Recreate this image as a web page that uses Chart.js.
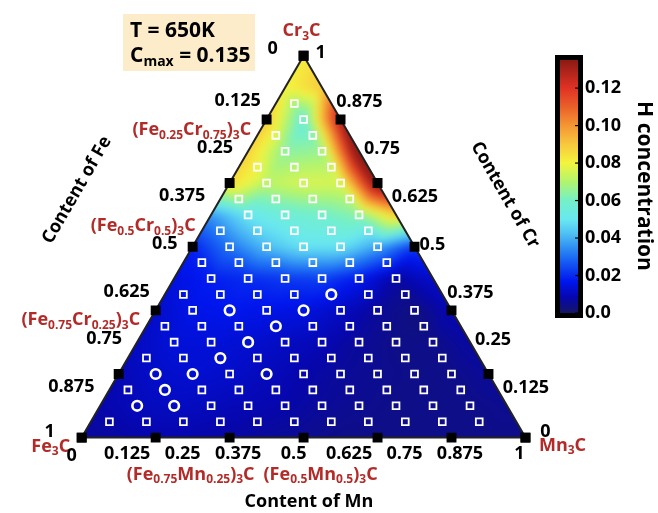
<!DOCTYPE html>
<html>
<head>
<meta charset="utf-8">
<script src="https://cdn.jsdelivr.net/npm/chart.js@4.4.0/dist/chart.umd.min.js"></script>
<style>
  body { margin: 0; background: #fff; }
  canvas { display: block; }
</style>
</head>
<body>
<canvas id="ternary" width="658" height="513"></canvas>
<script>
// ---- data ----
// sampled compositions, in 1/24 steps: Cr level of each row and the Mn levels on it
const sampleCr = [1, 2, 3, 4, 5, 6, 7, 8, 9, 10, 11, 12, 13, 14, 15, 16, 17, 18, 19, 20, 21];
const sampleMn = [
    [1, 3, 5, 7, 9, 11, 13, 15, 17, 19, 21],
    [2, 4, 6, 8, 10, 12, 14, 16, 18, 20],
    [1, 3, 5, 7, 9, 11, 13, 15, 17, 19],
    [2, 4, 6, 8, 10, 12, 14, 16, 18],
    [1, 3, 5, 7, 9, 11, 13, 15, 17],
    [2, 4, 6, 8, 10, 12, 14, 16],
    [1, 3, 5, 7, 9, 11, 13, 15],
    [2, 4, 6, 8, 10, 12, 14],
    [1, 3, 5, 7, 9, 11, 13],
    [2, 4, 6, 8, 10, 12],
    [1, 3, 5, 7, 9, 11],
    [2, 4, 6, 8, 10],
    [1, 3, 5, 7, 9],
    [2, 4, 6, 8],
    [1, 3, 5, 7],
    [2, 4, 6],
    [1, 3, 5],
    [2, 4],
    [1, 3],
    [2],
    [1]
];
// samples drawn as circles instead of squares: [Cr, Mn] in 1/24 steps
const circleSamples = [[2, 2], [2, 4], [3, 3], [4, 2], [4, 4], [4, 8], [5, 5], [6, 6], [7, 7], [8, 4], [8, 8], [9, 9]];

// H concentration on a 1/12 grid: row = Cr level (bottom to top), column = Mn level
const hGrid = [
    [0.006, 0.007, 0.008, 0.008, 0.007, 0.006, 0.005, 0.004, 0.004, 0.004, 0.004, 0.004, 0.004],
    [0.008, 0.010, 0.011, 0.010, 0.009, 0.008, 0.006, 0.005, 0.004, 0.004, 0.004, 0.005],
    [0.009, 0.012, 0.013, 0.012, 0.010, 0.008, 0.006, 0.005, 0.004, 0.004, 0.006],
    [0.011, 0.014, 0.014, 0.013, 0.011, 0.009, 0.006, 0.004, 0.004, 0.007],
    [0.012, 0.016, 0.017, 0.016, 0.015, 0.011, 0.006, 0.003, 0.009],
    [0.015, 0.018, 0.020, 0.022, 0.023, 0.017, 0.007, 0.012],
    [0.019, 0.031, 0.042, 0.049, 0.049, 0.038, 0.022],
    [0.036, 0.050, 0.056, 0.059, 0.064, 0.088],
    [0.086, 0.072, 0.076, 0.076, 0.140],
    [0.088, 0.064, 0.066, 0.145],
    [0.090, 0.055, 0.130],
    [0.080, 0.090],
    [0.082]
];

// black markers along each edge, in sixths
const edgeMarkers = [0, 1, 2, 3, 4, 5, 6];
// edge tick labels
const edgeTickValues = [0.125, 0.25, 0.375, 0.5, 0.625, 0.75, 0.875];
const edgeTickLabels = ['0.125', '0.25', '0.375', '0.5', '0.625', '0.75', '0.875'];

// colour bar
const cbMin = 0, cbMax = 0.135;
const cbTickValues = [0, 0.02, 0.04, 0.06, 0.08, 0.10, 0.12];
const cbTickLabels = ['0.0', '0.02', '0.04', '0.06', '0.08', '0.10', '0.12'];

// ---- helpers ----
const FONT = '"Open Sans", Lato, sans-serif';
const RED = '#b22b28';
const SQ3H = Math.sqrt(3) / 2;

function toXY(cr, mn) {
    return { x: mn + cr / 2, y: cr * SQ3H };
}

const cmapStops = [
    [0.000, 22, 22, 100],
    [0.008, 6, 6, 172],
    [0.017, 0, 22, 238],
    [0.030, 28, 110, 244],
    [0.042, 78, 190, 244],
    [0.050, 105, 232, 240],
    [0.060, 116, 240, 200],
    [0.070, 178, 244, 110],
    [0.080, 244, 244, 62],
    [0.090, 248, 200, 62],
    [0.100, 244, 150, 52],
    [0.110, 234, 96, 42],
    [0.120, 224, 50, 36],
    [0.135, 140, 26, 20]
];

function colorFor(v) {
    if (v <= cmapStops[0][0]) return cmapStops[0].slice(1);
    for (let i = 1; i < cmapStops.length; i++) {
        const b = cmapStops[i];
        if (v <= b[0]) {
            const a = cmapStops[i - 1];
            const t = (v - a[0]) / (b[0] - a[0]);
            return [a[1] + (b[1] - a[1]) * t, a[2] + (b[2] - a[2]) * t, a[3] + (b[3] - a[3]) * t];
        }
    }
    return cmapStops[cmapStops.length - 1].slice(1);
}

function g(i, j) {
    const row = hGrid[i];
    return row[Math.max(0, Math.min(j, row.length - 1))];
}

function fieldAt(cr, mn) {
    const n = hGrid.length - 1;
    const u = cr * n, v = mn * n;
    const i = Math.min(Math.floor(u), n - 1);
    const fu = u - i;
    const j = Math.max(0, Math.min(Math.floor(v), n - 1 - i));
    const fv = v - j;
    if (fu + fv <= 1) {
        return g(i, j) * (1 - fu - fv) + g(i + 1, j) * fu + g(i, j + 1) * fv;
    }
    return g(i + 1, j + 1) * (fu + fv - 1) + g(i + 1, j) * (1 - fv) + g(i, j + 1) * (1 - fu);
}

// text with _{sub} parts
function drawRich(ctx, str, x, y, size, color, align) {
    const parts = str.split(/_\{([^}]*)\}/);
    const subSize = Math.round(size * 0.68);
    let total = 0;
    parts.forEach((p, k) => {
        ctx.font = 'bold ' + (k % 2 ? subSize : size) + 'px ' + FONT;
        total += ctx.measureText(p).width;
    });
    let cx = align === 'right' ? x - total : align === 'center' ? x - total / 2 : x;
    ctx.fillStyle = color;
    ctx.textAlign = 'left';
    ctx.textBaseline = 'middle';
    parts.forEach((p, k) => {
        const sub = k % 2 === 1;
        ctx.font = 'bold ' + (sub ? subSize : size) + 'px ' + FONT;
        ctx.fillText(p, cx, sub ? y + size * 0.3 : y);
        cx += ctx.measureText(p).width;
    });
}

function drawRotated(ctx, str, x, y, angle, size) {
    ctx.save();
    ctx.translate(x, y);
    ctx.rotate(angle);
    ctx.font = 'bold ' + size + 'px ' + FONT;
    ctx.fillStyle = '#000';
    ctx.textAlign = 'center';
    ctx.textBaseline = 'middle';
    ctx.fillText(str, 0, 0);
    ctx.restore();
}

// ---- point datasets ----
const squarePts = [], circlePts = [], markerPts = [];
sampleCr.forEach((k, r) => {
    sampleMn[r].forEach(j => {
        const p = toXY(k / 24, j / 24);
        const isCircle = circleSamples.some(c => c[0] === k && c[1] === j);
        (isCircle ? circlePts : squarePts).push(p);
    });
});
edgeMarkers.forEach(s => {
    markerPts.push(toXY(0, s / 6));          // bottom (Mn)
    markerPts.push(toXY(s / 6, 0));          // left (Fe)
    markerPts.push(toXY(s / 6, 1 - s / 6));  // right (Cr)
});

// ---- plugins ----
const fieldPlugin = {
    id: 'hField',
    beforeDatasetsDraw(chart) {
        const ctx = chart.ctx;
        const xs = chart.scales.x, ys = chart.scales.y;
        const pix = p => [xs.getPixelForValue(p.x), ys.getPixelForValue(p.y)];
        const corners = [toXY(0, 0), toXY(0, 1), toXY(1, 0)].map(pix);
        const pad = 10;
        const x0 = Math.floor(Math.min(...corners.map(c => c[0]))) - pad;
        const x1 = Math.ceil(Math.max(...corners.map(c => c[0]))) + pad;
        const y0 = Math.floor(Math.min(...corners.map(c => c[1]))) - pad;
        const y1 = Math.ceil(Math.max(...corners.map(c => c[1]))) + pad;
        const w = x1 - x0, h = y1 - y0;
        const off = document.createElement('canvas');
        off.width = w; off.height = h;
        const octx = off.getContext('2d');
        const img = octx.createImageData(w, h);
        for (let py = 0; py < h; py++) {
            const Y = ys.getValueForPixel(y0 + py + 0.5);
            let cr = Math.max(0, Math.min(1, Y / SQ3H));
            for (let px = 0; px < w; px++) {
                const X = xs.getValueForPixel(x0 + px + 0.5);
                let mn = Math.max(0, Math.min(1 - cr, X - cr / 2));
                const c = colorFor(fieldAt(cr, mn));
                const o = (py * w + px) * 4;
                img.data[o] = c[0]; img.data[o + 1] = c[1]; img.data[o + 2] = c[2]; img.data[o + 3] = 255;
            }
        }
        octx.putImageData(img, 0, 0);

        ctx.save();
        ctx.beginPath();
        ctx.moveTo(corners[0][0], corners[0][1]);
        ctx.lineTo(corners[1][0], corners[1][1]);
        ctx.lineTo(corners[2][0], corners[2][1]);
        ctx.closePath();
        ctx.clip();
        ctx.filter = 'blur(4px)';
        ctx.drawImage(off, x0, y0);
        ctx.restore();

        ctx.save();
        ctx.beginPath();
        ctx.moveTo(corners[0][0], corners[0][1]);
        ctx.lineTo(corners[1][0], corners[1][1]);
        ctx.lineTo(corners[2][0], corners[2][1]);
        ctx.closePath();
        ctx.lineWidth = 2;
        ctx.strokeStyle = '#222';
        ctx.stroke();
        ctx.restore();
    }
};

const labelPlugin = {
    id: 'ternaryLabels',
    afterDraw(chart) {
        const ctx = chart.ctx;
        const xs = chart.scales.x, ys = chart.scales.y;
        const at = (cr, mn) => {
            const p = toXY(cr, mn);
            return [xs.getPixelForValue(p.x), ys.getPixelForValue(p.y)];
        };
        const size = 18;

        // edge tick labels
        edgeTickValues.forEach((v, i) => {
            const l = at(1 - v, 0);       // Fe content on left edge
            drawRich(ctx, edgeTickLabels[i], l[0] - 15, l[1] - 3, size, '#000', 'right');
            const r = at(v, 1 - v);       // Cr content on right edge
            drawRich(ctx, edgeTickLabels[i], r[0] + 5, r[1] - 2, size, '#000', 'left');
            const b = at(0, v);           // Mn content on bottom edge
            drawRich(ctx, edgeTickLabels[i], b[0] - 10, b[1] + 16, size, '#000', 'center');
        });

        // corner labels
        const top = at(1, 0), bl = at(0, 0), br = at(0, 1);
        drawRich(ctx, 'Cr_{3}C', top[0] - 2, top[1] - 25, size, RED, 'center');
        drawRich(ctx, '0', top[0] - 31, top[1] - 7, size, '#000', 'center');
        drawRich(ctx, '1', top[0] + 17, top[1] - 3, size, '#000', 'center');
        drawRich(ctx, '1', bl[0] - 32, bl[1] - 6, size, '#000', 'center');
        drawRich(ctx, 'Fe_{3}C', bl[0] - 31, bl[1] + 9, size, RED, 'center');
        drawRich(ctx, '0', bl[0] - 10, bl[1] + 18, size, '#000', 'center');
        drawRich(ctx, '1', br[0] - 6, br[1] + 16, size, '#000', 'center');
        drawRich(ctx, '0', br[0] + 20, br[1] - 6, size, '#000', 'center');
        drawRich(ctx, 'Mn_{3}C', br[0] + 37, br[1] + 8, size, RED, 'center');

        // compound labels
        let p = at(0.75, 0);
        drawRich(ctx, '(Fe_{0.25}Cr_{0.75})_{3}C', p[0] + 3, p[1] - 21, size, RED, 'right');
        p = at(0.5, 0);
        drawRich(ctx, '(Fe_{0.5}Cr_{0.5})_{3}C', p[0] + 3, p[1] - 21, size, RED, 'right');
        p = at(0.25, 0);
        drawRich(ctx, '(Fe_{0.75}Cr_{0.25})_{3}C', p[0] + 3, p[1] - 22, size, RED, 'right');
        p = at(0, 0.25);
        drawRich(ctx, '(Fe_{0.75}Mn_{0.25})_{3}C', p[0] - 2, p[1] + 37, size, RED, 'center');
        p = at(0, 0.5);
        drawRich(ctx, '(Fe_{0.5}Mn_{0.5})_{3}C', p[0] + 17, p[1] + 37, size, RED, 'center');

        // axis titles
        drawRotated(ctx, 'Content of Fe', 77, 190, -Math.PI / 3, 18);
        drawRotated(ctx, 'Content of Cr', 505, 195, Math.PI / 3, 18);
        drawRotated(ctx, 'Content of Mn', 309, 502, 0, 18);

        // temperature box
        ctx.fillStyle = '#fcecc9';
        ctx.fillRect(123, 14, 132, 57);
        drawRich(ctx, 'T = 650K', 130, 31, 21, '#000', 'left');
        drawRich(ctx, 'C_{max} = 0.135', 130, 56, 21, '#000', 'left');

        // colour bar
        const cbX = 560, cbW = 18, cbTop = 60, cbBot = 313;
        const cbPix = v => cbBot - (v - cbMin) / (cbMax - cbMin) * (cbBot - cbTop);
        for (let y = cbTop; y < cbBot; y++) {
            const v = cbMin + (cbBot - y - 0.5) / (cbBot - cbTop) * (cbMax - cbMin);
            const c = colorFor(v);
            ctx.fillStyle = 'rgb(' + c.map(Math.round).join(',') + ')';
            ctx.fillRect(cbX, y, cbW, 1);
        }
        ctx.lineWidth = 5;
        ctx.strokeStyle = '#000';
        ctx.strokeRect(cbX - 2.5, cbTop - 2.5, cbW + 5, cbBot - cbTop + 5);
        ctx.lineWidth = 1.2;
        cbTickValues.forEach((v, i) => {
            const y = cbPix(v);
            ctx.beginPath();
            ctx.moveTo(cbX + cbW - 3, y);
            ctx.lineTo(cbX + cbW, y);
            ctx.stroke();
            drawRich(ctx, cbTickLabels[i], cbX + cbW + 7, y, size, '#000', 'left');
        });
        drawRotated(ctx, 'H concentration', 644, 186, Math.PI / 2, 21);
    }
};

// ---- chart ----
// pixel frame of the triangle: left vertex, side length, base line
const frameLeft = 76, frameSide = 454, frameBase = 443, canvasW = 658, canvasH = 513;
const unitY = frameSide; // same scale on both axes

new Chart('ternary', {
    type: 'scatter',
    data: {
        datasets: [{
            data: markerPts,
            pointStyle: 'rect',
            pointRadius: 7,
            backgroundColor: '#000',
            borderWidth: 0
        }, {
            data: circlePts,
            pointStyle: 'circle',
            pointRadius: 4.8,
            backgroundColor: 'rgba(0,0,0,0)',
            borderColor: '#fff',
            borderWidth: 2.6
        }, {
            data: squarePts,
            pointStyle: 'rect',
            pointRadius: 4.8,
            backgroundColor: 'rgba(0,0,0,0)',
            borderColor: '#fff',
            borderWidth: 1.8
        }]
    },
    options: {
        responsive: false,
        animation: false,
        events: [],
        layout: { padding: 0 },
        plugins: {
            legend: { display: false },
            tooltip: { enabled: false }
        },
        scales: {
            x: {
                type: 'linear', display: false,
                min: -frameLeft / frameSide,
                max: (canvasW - frameLeft) / frameSide
            },
            y: {
                type: 'linear', display: false,
                min: (frameBase - canvasH) / unitY,
                max: frameBase / unitY
            }
        }
    },
    plugins: [fieldPlugin, labelPlugin]
});
</script>
</body>
</html>
